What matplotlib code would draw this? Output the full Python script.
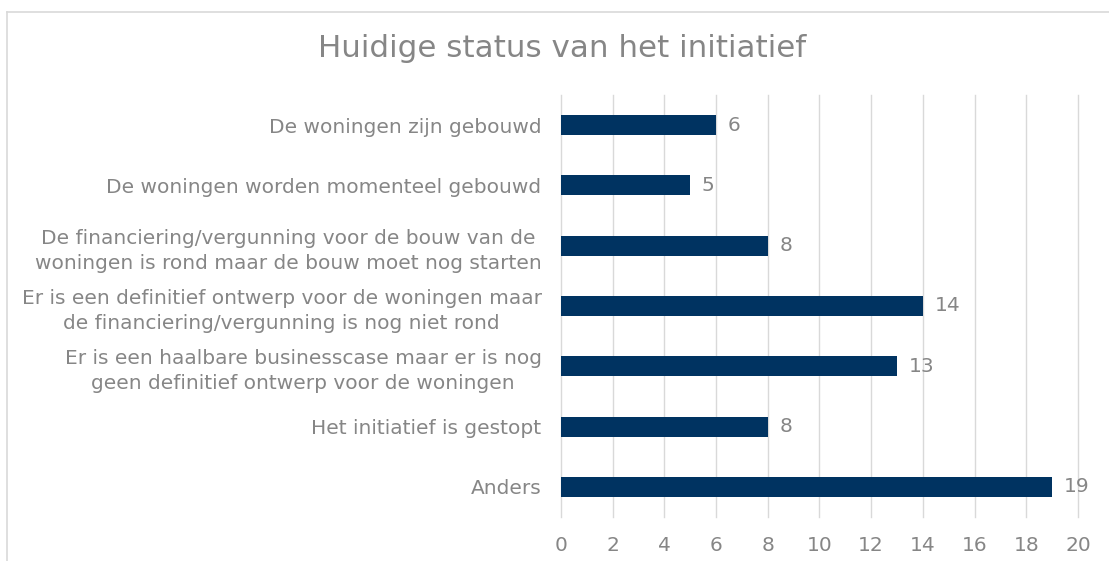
import matplotlib
matplotlib.use("Agg")
import matplotlib.pyplot as plt
from matplotlib.lines import Line2D

categories = [
    "De woningen zijn gebouwd",
    "De woningen worden momenteel gebouwd",
    "De financiering/vergunning voor de bouw van de\nwoningen is rond maar de bouw moet nog starten",
    "Er is een definitief ontwerp voor de woningen maar\nde financiering/vergunning is nog niet rond",
    "Er is een haalbare businesscase maar er is nog\ngeen definitief ontwerp voor de woningen",
    "Het initiatief is gestopt",
    "Anders",
]
values = [6, 5, 8, 14, 13, 8, 19]
x_ticks = list(range(0, 21, 2))

bar_color = "#003361"
text_color = "#868686"
grid_color = "#d9d9d9"

plt.rcParams["font.family"] = ["DejaVu Sans"]

fig = plt.figure(figsize=(11.09, 5.61), dpi=100)
ax = fig.add_axes([0.5059, 0.0784, 0.4661, 0.7523])

# chart border (top and left visible)
fig.add_artist(Line2D([0.0063, 1.0], [0.9786, 0.9786], transform=fig.transFigure,
                      color=grid_color, linewidth=1.2))
fig.add_artist(Line2D([0.0063, 0.0063], [0.0, 0.9786], transform=fig.transFigure,
                      color=grid_color, linewidth=1.2))

y_pos = list(range(len(categories)))
ax.barh(y_pos, values, height=0.33, color=bar_color, zorder=3)

for y, v in zip(y_pos, values):
    ax.text(v + 0.45, y, str(v), va="center", ha="left",
            fontsize=14.5, color=text_color)

ax.set_xlim(0, 20)
ax.set_ylim(len(categories) - 0.5, -0.5)
ax.set_xticks(x_ticks)
ax.set_yticks(y_pos)
ax.set_yticklabels(categories, multialignment="center")
for label in ax.get_yticklabels():
    label.set_linespacing(1.4)

ax.grid(axis="x", color=grid_color, linewidth=1.0, zorder=0)
for line in ax.get_xgridlines():
    line.set_clip_on(False)
for s in ax.spines.values():
    s.set_visible(False)

ax.tick_params(axis="both", length=0, labelsize=14.5, labelcolor=text_color)
ax.tick_params(axis="y", pad=14)
ax.tick_params(axis="x", pad=14)

fig.text(0.507, 0.913, "Huidige status van het initiatief", ha="center",
         va="center", fontsize=22.3, color=text_color)

fig.savefig("out.png", dpi=100)
